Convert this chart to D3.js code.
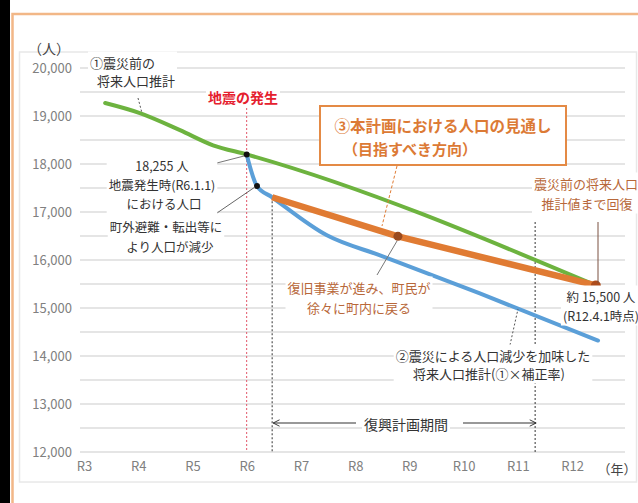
<!DOCTYPE html>
<html>
<head>
<meta charset="utf-8">
<script src="https://cdn.jsdelivr.net/npm/d3@7"></script>
<style>
body { margin: 0; background: #fff; }
svg { display: block; font-family: "Noto Sans CJK JP", "Noto Sans", sans-serif; }
</style>
</head>
<body>
<div id="divcont"></div>
<script>
var wd = 638
var ht = 503

// data (year = Reiwa year, value = people)
var yTicks = [12000, 13000, 14000, 15000, 16000, 17000, 18000, 19000, 20000]
var yMinor = [12500, 13500, 14500, 15500, 16500, 17500, 18500, 19500]
var xTicks = [3, 4, 5, 6, 7, 8, 9, 10, 11, 12]
var xLabels = ["R3", "R4", "R5", "R6", "R7", "R8", "R9", "R10", "R11", "R12"]

var greenYears = [3.39, 4.03, 4.77, 5.38, 6.0, 12.44]
var greenVals = [19270, 19060, 18705, 18390, 18200, 15470]

var blueYears = [6.0, 6.19, 6.47, 7.48, 8.46, 10.30, 12.48]
var blueVals = [18200, 17540, 17307, 16514, 16096, 15303, 14322]

var orangeYears = [6.47, 8.79, 12.44]
var orangeVals = [17307, 16493, 15470]

var quakeYear = 6.0
var planStart = 6.47
var planEnd = 11.32

var svg = d3.select("#divcont")
  .append("svg")
  .attr("width", wd)
  .attr("height", ht)

// frames
svg.append("rect").attr("x", 0).attr("y", 0).attr("width", 10).attr("height", ht).attr("fill", "#000")
svg.append("rect").attr("x", 12.5).attr("y", 14).attr("width", 640).attr("height", 520)
  .attr("fill", "#fff").attr("stroke", "#f2b787").attr("stroke-width", 2.5)
svg.append("rect").attr("x", 19.5).attr("y", 52).attr("width", 617).attr("height", 430)
  .attr("fill", "#fff").attr("stroke", "#e8e8e8").attr("stroke-width", 1.5)

var x = d3.scaleLinear().domain([3, 12]).range([84, 572])
var y = d3.scaleLinear().domain([12000, 20000]).range([452, 68])

// grid
var grid = svg.append("g")
grid.selectAll("line")
  .data(yTicks.concat(yMinor))
  .enter()
  .append("line")
  .attr("x1", 80).attr("x2", 625)
  .attr("y1", function(d) { return y(d) })
  .attr("y2", function(d) { return y(d) })
  .attr("stroke", "#dcdcdc")
  .attr("stroke-width", 1.6)

// axes (labels only)
var yAxis = d3.axisLeft(y).tickValues(yTicks).tickSize(0).tickPadding(0)
  .tickFormat(d3.format(","))
var yAx = svg.append("g").attr("transform", "translate(72,0)").call(yAxis)
var xAxis = d3.axisBottom(x).tickValues(xTicks).tickSize(0).tickPadding(0)
  .tickFormat(function(d, i) { return xLabels[i] })
var xAx = svg.append("g").attr("transform", "translate(0,462)").call(xAxis)
svg.selectAll(".domain").remove()
svg.selectAll(".tick text")
  .style("font-size", "13px")
  .style("font-family", "'Noto Sans CJK JP', sans-serif")
  .attr("fill", "#808080")
xAx.selectAll(".tick text").attr("dy", "0.71em")

svg.append("text").attr("x", 49).attr("y", 54).attr("text-anchor", "middle")
  .style("font-size", "14px").attr("fill", "#444").text("（人）")
svg.append("text").attr("x", 617).attr("y", 474).attr("text-anchor", "middle")
  .style("font-size", "13px").attr("fill", "#444").text("（年）")

// vertical guides
svg.append("line")
  .attr("x1", x(quakeYear)).attr("x2", x(quakeYear))
  .attr("y1", 108).attr("y2", y(12000))
  .attr("stroke", "#e2576a").attr("stroke-width", 1).attr("stroke-dasharray", "2,2")
svg.append("line")
  .attr("x1", x(planStart)).attr("x2", x(planStart))
  .attr("y1", y(orangeVals[0])).attr("y2", y(12000))
  .attr("stroke", "#333").attr("stroke-width", 1).attr("stroke-dasharray", "2,2")
svg.append("line")
  .attr("x1", x(planEnd)).attr("x2", x(planEnd))
  .attr("y1", 222).attr("y2", y(12000))
  .attr("stroke", "#333").attr("stroke-width", 1).attr("stroke-dasharray", "2,2")

// lines
var mk = function(xs, vs) { return xs.map(function(d, i) { return [d, vs[i]] }) }
var lineM = d3.line().x(function(d) { return x(d[0]) }).y(function(d) { return y(d[1]) })
  .curve(d3.curveMonotoneX)
var lineL = d3.line().x(function(d) { return x(d[0]) }).y(function(d) { return y(d[1]) })

svg.append("path").datum(mk(greenYears, greenVals))
  .attr("d", lineM).attr("fill", "none").attr("stroke", "#6db33f")
  .attr("stroke-width", 4).attr("stroke-linecap", "round")
svg.append("path").datum(mk(blueYears, blueVals))
  .attr("d", lineM).attr("fill", "none").attr("stroke", "#5b9fd8")
  .attr("stroke-width", 4).attr("stroke-linecap", "round").attr("stroke-linejoin", "round")
svg.append("path").datum(mk(orangeYears, orangeVals))
  .attr("d", lineL).attr("fill", "none").attr("stroke", "#e07b33")
  .attr("stroke-width", 6.5).attr("stroke-linejoin", "round")

// dots
svg.selectAll("bdot")
  .data(mk(blueYears.slice(0, 2), blueVals.slice(0, 2)))
  .enter().append("circle")
  .attr("cx", function(d) { return x(d[0]) })
  .attr("cy", function(d) { return y(d[1]) })
  .attr("r", 3).attr("fill", "#111")
svg.selectAll("odot")
  .data(mk(orangeYears.slice(1), orangeVals.slice(1)))
  .enter().append("circle")
  .attr("cx", function(d) { return x(d[0]) })
  .attr("cy", function(d) { return y(d[1]) })
  .attr("r", function(d, i) { return i == 0 ? 4.5 : 5 })
  .attr("fill", function(d, i) { return i == 0 ? "#9a4a1f" : "#ad4c1c" })

// leader lines
var leaders = [
  [138, 98, 142, 113, "#555", "2,2"],
  [213, 164, 244, 156, "#777", null],
  [217, 213, 255, 187, "#666", null],
  [397, 166, 382, 226, "#e07b33", "3,2"],
  [377, 275, 397, 241, "#777", null],
  [510, 345, 518, 309, "#555", "2,2"],
  [598, 222, 598, 283, "#7a5040", null]
]
leaders.forEach(function(l) {
  svg.append("line").attr("x1", l[0]).attr("y1", l[1]).attr("x2", l[2]).attr("y2", l[3])
    .attr("stroke", l[4]).attr("stroke-width", 1)
    .attr("stroke-dasharray", l[5])
})

// labels with white backing
function label(lines, opts) {
  var g = svg.append("g")
  var bg = g.append("rect").attr("fill", "#fff")
  lines.forEach(function(t) {
    g.append("text")
      .attr("x", t[1]).attr("y", t[2])
      .attr("dominant-baseline", "central")
      .attr("text-anchor", opts.anchor || "middle")
      .style("font-size", (opts.size || 13) + "px")
      .style("font-weight", opts.weight || 400)
      .attr("fill", opts.color || "#333")
      .text(t[0])
  })
  var bb = g.node().getBBox()
  bg.attr("x", bb.x - 2).attr("y", bb.y - 1).attr("width", bb.width + 4).attr("height", bb.height + 2)
  return g
}

label([["①震災前の", 90, 62], ["将来人口推計", 97, 80]], {anchor: "start"})
label([["地震の発生", 243, 97]], {size: 14, weight: 700, color: "#e5202e"})
label([["18,255 人", 162, 165], ["地震発生時(R6.1.1)", 162, 184], ["における人口", 164, 203]], {size: 12.5})
label([["町外避難・転出等に", 166, 226], ["より人口が減少", 170, 246]], {size: 12.5})
label([["復旧事業が進み、町民が", 359, 287], ["徐々に町内に戻る", 359, 307]], {color: "#b8683a"})
label([["②震災による人口減少を加味した", 493, 355], ["将来人口推計(①×補正率)", 489, 373]], {})
label([["震災前の将来人口", 586, 183], ["推計値まで回復", 587, 203]], {color: "#b8683a"})
label([["約 15,500 人", 601, 296], ["(R12.4.1時点)", 601, 315]], {size: 12.5})

label([["復興計画期間", 406, 424]], {size: 14})

// plan period arrows
var defs = svg.append("defs")
defs.append("marker").attr("id", "arr").attr("viewBox", "0 0 10 10")
  .attr("refX", 9).attr("refY", 5).attr("markerWidth", 8).attr("markerHeight", 8)
  .attr("orient", "auto-start-reverse").attr("markerUnits", "userSpaceOnUse")
  .append("path").attr("d", "M1,1L9,5L1,9").attr("fill", "none").attr("stroke", "#333").attr("stroke-width", 1.2)
svg.append("line").attr("x1", x(planStart) + 1).attr("x2", 356).attr("y1", 423).attr("y2", 423)
  .attr("stroke", "#333").attr("stroke-width", 1.2).attr("marker-start", "url(#arr)")
svg.append("line").attr("x1", 463).attr("x2", x(planEnd) + 1).attr("y1", 423).attr("y2", 423)
  .attr("stroke", "#333").attr("stroke-width", 1.2).attr("marker-end", "url(#arr)")

// outlook box
svg.append("rect").attr("x", 320).attr("y", 106).attr("width", 246).attr("height", 59)
  .attr("fill", "#fff").attr("stroke", "#e48a45").attr("stroke-width", 2)
svg.append("text").attr("x", 443).attr("y", 125).attr("text-anchor", "middle")
  .attr("dominant-baseline", "central")
  .style("font-size", "15.5px").style("font-weight", 700).attr("fill", "#dc7a35")
  .text("③本計画における人口の見通し")
svg.append("text").attr("x", 343).attr("y", 148)
  .attr("dominant-baseline", "central")
  .style("font-size", "15px").style("font-weight", 700).attr("fill", "#dc7a35")
  .text("（目指すべき方向）")
</script>
</body>
</html>
